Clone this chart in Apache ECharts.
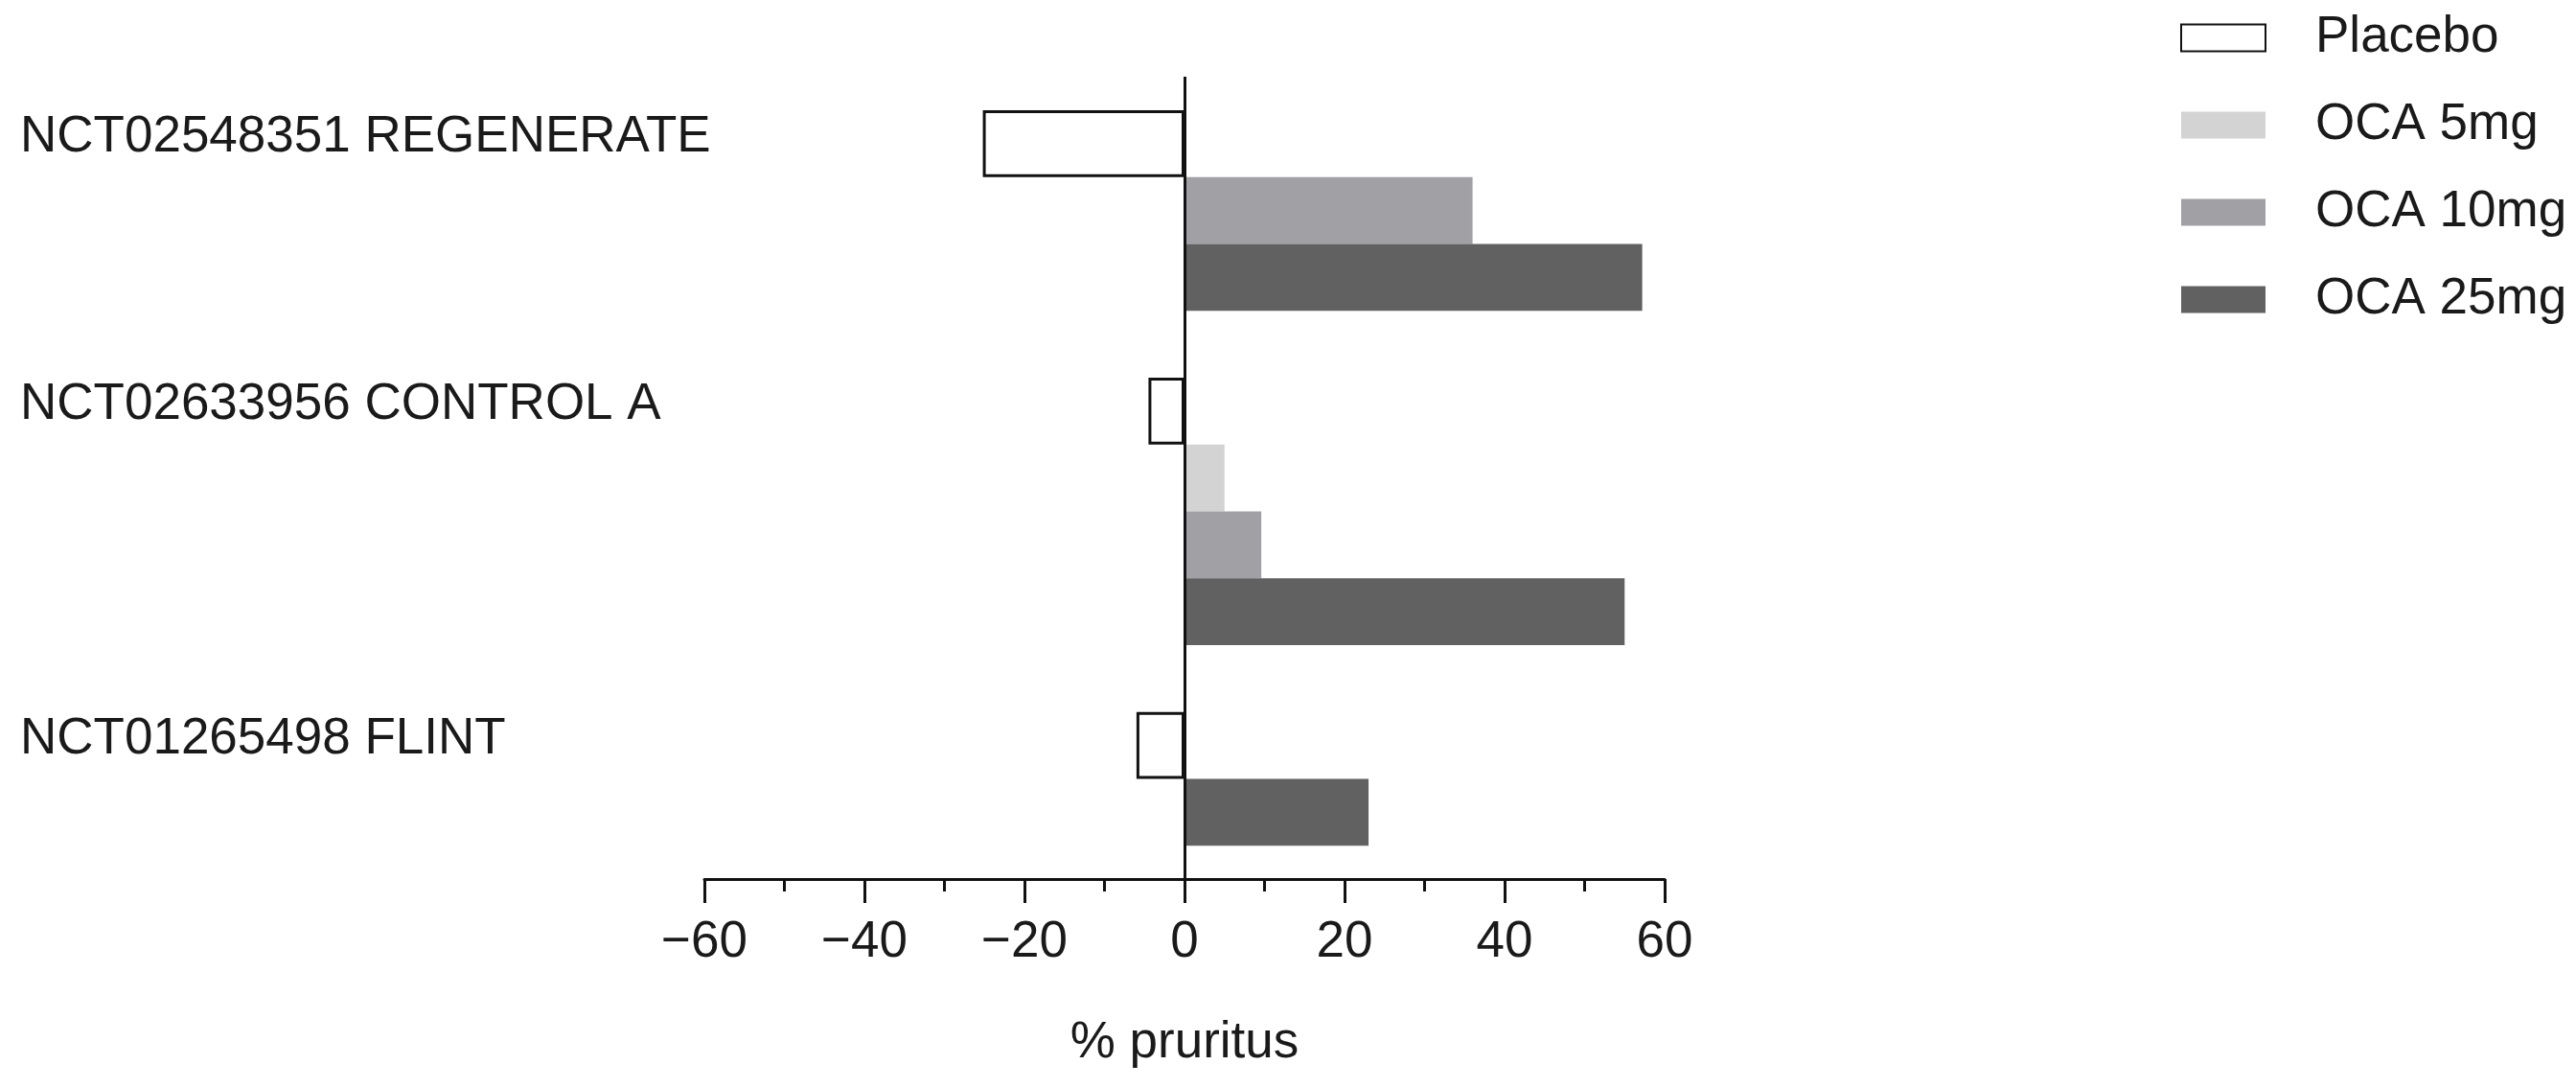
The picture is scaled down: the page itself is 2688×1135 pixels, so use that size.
<!DOCTYPE html>
<html>
<head>
<meta charset="utf-8">
<script src="https://cdn.jsdelivr.net/npm/echarts@6/dist/echarts.min.js"></script>
<style>
  html, body { margin: 0; padding: 0; background: #fff; }
  #chart { width: 2688px; height: 1135px; }
</style>
</head>
<body>
<div id="chart"></div>
<script>
const trials = ['NCT02548351 REGENERATE', 'NCT02633956 CONTROL A', 'NCT01265498 FLINT']
const doses = ['Placebo', 'OCA 5mg', 'OCA 10mg', 'OCA 25mg']
// % pruritus per trial, null = arm not in that trial
const placebo = [-25.2, -4.5, -6]
const oca5 = [null, 5, null]
const oca10 = [36, 9.6, null]
const oca25 = [57.2, 55, 23]
const xTicks = [-60, -40, -20, 0, 20, 40, 60]

const colors = ['#ffffff', '#d3d3d3', '#a1a0a5', '#616161']
const font = '"Liberation Sans", Arial, sans-serif'

// one axis row per bar, an empty row between trials and half a row at both ends
const values = [placebo, oca5, oca10, oca25]
const rows = [{ key: 'pad-top', label: '' }]
const seriesData = values.map(() => [null])
trials.forEach((t, i) => {
  if (i > 0) {
    rows.push({ key: 'gap-' + i, label: '' })
    seriesData.forEach(d => d.push(null))
  }
  values.forEach((arr, s) => {
    if (arr[i] == null) return
    rows.push({ key: t + '|' + doses[s], label: s === 0 ? t : '' })
    seriesData.forEach((d, k) => d.push(k === s ? arr[i] : null))
  })
})
rows.push({ key: 'pad-bottom', label: '' })
const labelOf = {}
rows.forEach(r => { labelOf[r.key] = r.label })

const chart = echarts.init(document.getElementById('chart'))
chart.setOption({
  animation: false,
  backgroundColor: '#fff',
  legend: {
    data: doses,
    orient: 'vertical',
    left: 2270,
    top: 8,
    icon: 'rect',
    itemWidth: 88,
    itemHeight: 28,
    itemGap: 38,
    selectedMode: false,
    textStyle: {
      fontFamily: font,
      fontSize: 53,
      color: '#1a1a1a',
      padding: [0, 0, 0, 47]
    }
  },
  grid: {
    left: 735,
    right: 951,
    top: 80,
    bottom: 218,
    containLabel: false
  },
  xAxis: {
    type: 'value',
    min: xTicks[0],
    max: xTicks[xTicks.length - 1],
    interval: xTicks[1] - xTicks[0],
    name: '% pruritus',
    nameLocation: 'middle',
    nameGap: 145,
    nameTextStyle: { fontFamily: font, fontSize: 53, color: '#1a1a1a' },
    axisLine: { show: true, onZero: false, lineStyle: { color: '#111', width: 3 } },
    axisTick: { show: true, length: 25, lineStyle: { color: '#111', width: 3 } },
    minorTick: { show: true, splitNumber: 2, length: 13, lineStyle: { color: '#111', width: 3 } },
    splitLine: { show: false },
    axisLabel: {
      fontFamily: font,
      fontSize: 53,
      color: '#1a1a1a',
      margin: 40,
      formatter: v => String(v).replace('-', '\u2212')
    }
  },
  yAxis: {
    type: 'category',
    inverse: true,
    boundaryGap: false,
    data: rows.map(r => r.key),
    axisLine: { show: false },
    axisTick: { show: false },
    splitLine: { show: false },
    axisLabel: {
      interval: 0,
      align: 'left',
      verticalAlign: 'bottom',
      lineHeight: 12,
      margin: 714,
      fontFamily: font,
      fontSize: 53,
      color: '#1a1a1a',
      formatter: v => labelOf[v]
    }
  },
  series: doses.map((name, s) => ({
    name: name,
    type: 'bar',
    stack: 'arms',
    barCategoryGap: '0%',
    data: seriesData[s],
    itemStyle: s === 0
      ? { color: '#fff', borderColor: '#111', borderWidth: 3 }
      : { color: colors[s] },
    emphasis: { disabled: true },
    markLine: s === 0 ? {
      silent: true,
      symbol: 'none',
      label: { show: false },
      lineStyle: { color: '#111', width: 3, type: 'solid' },
      data: [{ xAxis: 0 }]
    } : undefined
  }))
})
</script>
</body>
</html>
